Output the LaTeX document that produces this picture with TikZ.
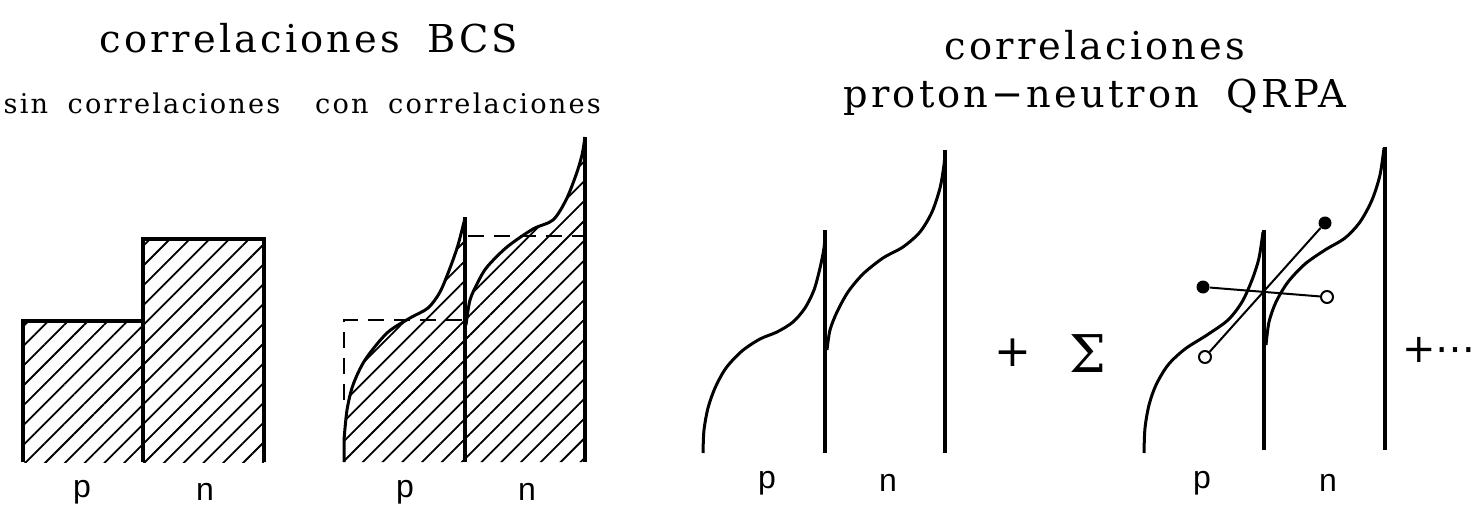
\documentclass[tikz,border=0pt]{standalone}
\usepackage{fontspec}
\setmainfont{DejaVu Serif}
\setsansfont{Liberation Sans}
\usetikzlibrary{positioning, patterns.meta}
\newfontfamily\plotfont[LetterSpace=8, WordSpace=1.8]{DejaVu Serif}
\newfontfamily\symbfont{DejaVu Sans}
\tikzset{
    title/.style={font=\plotfont\fontsize{19.2}{23}\selectfont, anchor=base, inner sep=0pt}, % big headings
    subtitle/.style={font=\plotfont\fontsize{13.6}{16}\selectfont, anchor=base, inner sep=0pt},
    level/.style={font=\sffamily\fontsize{16}{19}\selectfont, anchor=base, inner sep=0pt}, % p / n labels
    fermi/.style={line width=1.5pt, line join=round},
    wall/.style={line width=1.6pt},
    hatched/.style={pattern={Lines[angle=45, distance=7pt, line width=0.9pt]}},
    sharp/.style={line width=1.2pt, dash pattern=on 8pt off 5pt}, % occupation without correlations
    particle/.style={circle, fill, inner sep=0pt, minimum size=6.5pt},
    hole/.style={circle, draw, line width=1pt, fill=white, inner sep=0pt, minimum size=6pt},
    pairline/.style={line width=1pt},
}

\begin{document}
\begin{tikzpicture}[x=0.5pt, y=-0.5pt, on grid]
    \useasboundingbox (0,0) rectangle (1479,508);

    % Headings
    \node[title] (bcs) at (309,53) {correlaciones BCS};
    \node[subtitle] (sin) at (142,114) {sin correlaciones};
    \node[subtitle] (con) at (458,114) {con correlaciones};
    \node[title] (qrpa) at (1095,60) {correlaciones};
    \node[title] (pnqrpa) at (1095,108) {proton−neutron QRPA};

    % sin correlaciones: sharp Fermi surfaces
    \fill[hatched] (23,462) rectangle (143,321);
    \fill[hatched] (143,462) rectangle (264,239);
    \draw[wall] (23,462) -- (23,321) -- (143,321);
    \draw[wall] (143,462) -- (143,239) -- (264,239) -- (264,462);

    % con correlaciones: smeared occupations
    \fill[hatched] (344,462) -- plot[smooth, tension=0.5] coordinates {(344,440) (347,410) (353,385) (365,360) (387,333) (410,318) (428,308) (440,292) (450,268) (458,245) (465,218)} -- (465,462) -- cycle;
    \fill[hatched] (466,462) -- plot[smooth, tension=0.5] coordinates {(466,325) (470,300) (478,282) (487,267) (507,247) (533,229) (553,220) (566,200) (576,175) (582,155) (585,137)} -- (585,462) -- cycle;
    \draw[fermi] (344,462) -- plot[smooth, tension=0.5] coordinates {(344,440) (347,410) (353,385) (365,360) (387,333) (410,318) (428,308) (440,292) (450,268) (458,245) (465,218)};
    \draw[fermi] plot[smooth, tension=0.5] coordinates {(466,325) (470,300) (478,282) (487,267) (507,247) (533,229) (553,220) (566,200) (576,175) (582,155) (585,137)};
    \draw[wall] (465,217) -- (465,462);
    \draw[wall] (585,137) -- (585,462);
    \draw[sharp] (344,400) -- (344,320) -- (465,320);
    \draw[sharp] (468,236) -- (585,236);

    % QRPA ground state
    \draw[fermi] plot[smooth, tension=0.5] coordinates {(703,453) (704,430) (708,408) (715,388) (726,368) (742,351) (760,339) (777,332) (793,322) (805,308) (814,290) (820,268) (824,248) (825,232)};
    \draw[fermi] plot[smooth, tension=0.5] coordinates {(827,350) (830,330) (837,312) (848,292) (863,274) (883,258) (903,247) (920,232) (932,212) (940,188) (944,165) (945,152)};
    \draw[wall] (825,230) -- (825,453);
    \draw[wall] (945,150) -- (945,453);

    \node[font=\symbfont\fontsize{22}{26}\selectfont, anchor=base, inner sep=0pt] (plus) at (1013,366) {+};
    \node[font=\fontsize{26}{30}\selectfont, anchor=base, inner sep=0pt] (sum) at (1088,372) {Σ};

    % QRPA excitation with pn pairs
    \draw[fermi] plot[smooth, tension=0.5] coordinates {(1144,453) (1145,428) (1149,405) (1156,385) (1168,365) (1185,349) (1207,335) (1228,320) (1242,302) (1252,280) (1259,258) (1263,232)};
    \draw[fermi] plot[smooth, tension=0.5] coordinates {(1266,345) (1269,322) (1276,302) (1288,282) (1305,264) (1325,250) (1345,238) (1360,222) (1372,200) (1380,175) (1384,148)};
    \draw[wall] (1264,230) -- (1264,450);
    \draw[wall] (1385,147) -- (1385,450);

    \node[particle] (pa) at (1203,287) {};
    \node[hole] (ha) at (1327,297) {};
    \node[hole] (hb) at (1205,357) {};
    \node[particle] (pb) at (1325,223) {};
    \draw[pairline] (pa) -- (ha);
    \draw[pairline] (hb) -- (pb);

    \node[font=\symbfont\fontsize{20}{24}\selectfont, anchor=base west, inner sep=0pt] (more) at (1402,362) {+⋯};

    % p / n labels
    \node[level] (p1) at (82,497) {p};
    \node[level, base right=61.5pt of p1] (n1) {n};
    \node[level] (p2) at (405,497) {p};
    \node[level, base right=61pt of p2] (n2) {n};
    \node[level] (p3) at (767,488) {p};
    \node[level, base right=60.5pt of p3] (n3) {n};
    \node[level] (p4) at (1202,488) {p};
    \node[level, base right=63pt of p4] (n4) {n};
\end{tikzpicture}
\end{document}
